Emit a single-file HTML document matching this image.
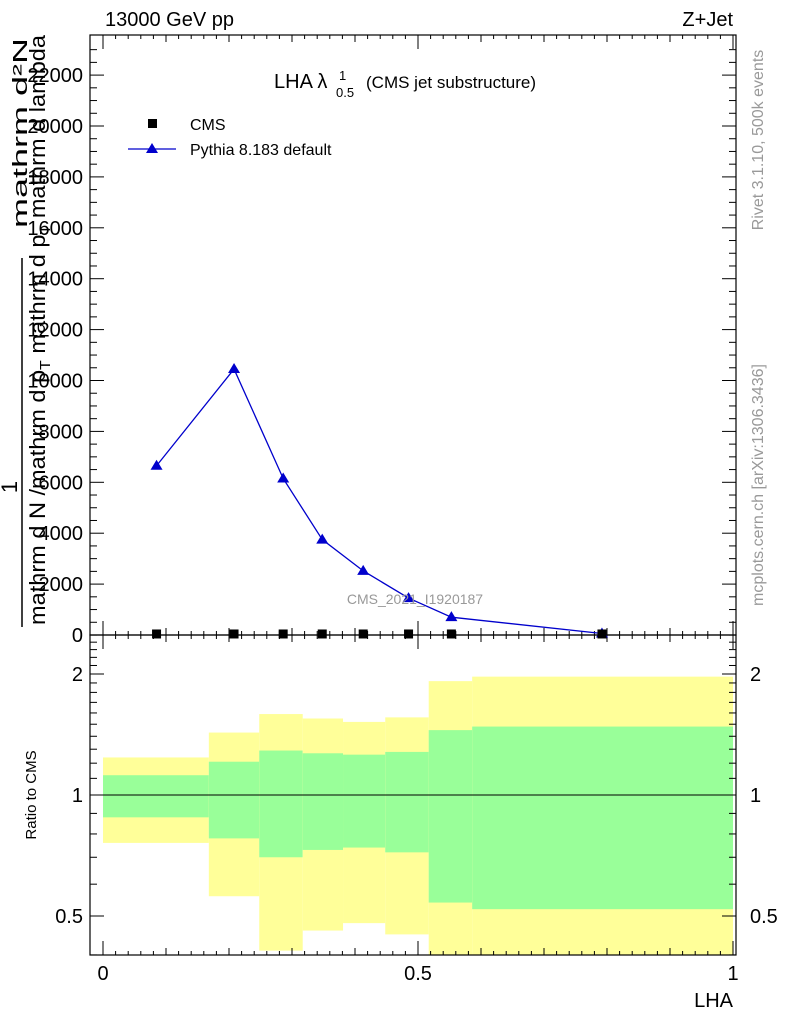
<!DOCTYPE html>
<html><head><meta charset="utf-8"><style>
body{margin:0;background:#fff}
svg text{font-family:"Liberation Sans",sans-serif}
</style></head><body>
<svg id="c" width="786" height="1024" xmlns="http://www.w3.org/2000/svg">
<g id="bands"></g>
<g id="frame"></g>
<g id="marks"></g>
<text x="105" y="26" font-size="20">13000 GeV pp</text>
<text x="733" y="26" font-size="20" text-anchor="end">Z+Jet</text>
<text x="274" y="88" font-size="20">LHA λ</text>
<text x="339" y="80" font-size="13">1</text>
<text x="336" y="97" font-size="13">0.5</text>
<text x="366" y="88" font-size="17">(CMS jet substructure)</text>
<rect x="148" y="119" width="9" height="9" fill="#000"/>
<text x="190" y="130" font-size="16">CMS</text>
<line x1="128" y1="149" x2="176" y2="149" stroke="#0000cc" stroke-width="1.3"/>
<polygon points="152,143 146,153 158,153" fill="#0000cc"/>
<text x="190" y="155" font-size="16">Pythia 8.183 default</text>
<text x="415" y="604" font-size="14" fill="#999" text-anchor="middle">CMS_2021_I1920187</text>
<text transform="translate(763,140) rotate(-90)" font-size="16" fill="#999" text-anchor="middle">Rivet 3.1.10,  500k events</text>
<text transform="translate(763,485) rotate(-90)" font-size="16" fill="#999" text-anchor="middle">mcplots.cern.ch [arXiv:1306.3436]</text>
<text transform="translate(27,38) rotate(-90)" font-size="20" text-anchor="end" textLength="190" lengthAdjust="spacingAndGlyphs">mathrm d²N</text>
<line x1="22" y1="258" x2="22" y2="627" stroke="#000" stroke-width="1.5"/>
<text transform="translate(17,487) rotate(-90)" font-size="22" text-anchor="middle">1</text>
<text transform="translate(45,625) rotate(-90)" font-size="22" textLength="590" lengthAdjust="spacingAndGlyphs">mathrm d N /mathrm d p<tspan font-size="15" dy="5">T</tspan><tspan dy="-5"> mathrm d p</tspan><tspan font-size="15" dy="5">T</tspan><tspan dy="-5"> mathrm d lambda</tspan></text>
<text transform="translate(36,795) rotate(-90)" font-size="15" text-anchor="middle">Ratio to CMS</text>
<text x="733" y="1007" font-size="20" text-anchor="end">LHA</text>
</svg>
<script>
const binEdges=[0,0.168,0.248,0.317,0.381,0.448,0.517,0.586,1];
const xCenters=[0.085,0.208,0.286,0.348,0.413,0.485,0.553,0.792];
const pythia=[6650,10450,6150,3750,2520,1450,700,60];
const cms=[40,40,40,40,40,40,40,40];
const yTicks=[0,2000,4000,6000,8000,10000,12000,14000,16000,18000,20000,22000];
const yelUp=[1.24,1.43,1.59,1.55,1.52,1.56,1.92,1.97];
const yelLo=[0.76,0.56,0.41,0.46,0.48,0.45,0.38,0.38];
const grnUp=[1.12,1.21,1.29,1.27,1.26,1.28,1.45,1.48];
const grnLo=[0.88,0.78,0.70,0.73,0.74,0.72,0.54,0.52];
const ratioTicks=[0.5,1,2];
const xTicks=[0,0.5,1];
const NS="http://www.w3.org/2000/svg";
const X=v=>103+v*630;
const Y=v=>635-v*(509/20000);
const R=v=>795-Math.log2(v)*121;
const L=90,Rt=736,T=35,M=635,B=955;
function el(t,a,p){const e=document.createElementNS(NS,t);for(const k in a)e.setAttribute(k,a[k]);document.getElementById(p).appendChild(e);return e;}
for(let i=0;i<8;i++){
 let x0=X(binEdges[i]),x1=X(binEdges[i+1]);
 let e=el('rect',{x:x0,y:Math.max(M,R(yelUp[i])),width:x1-x0,height:Math.min(B,R(yelLo[i]))-Math.max(M,R(yelUp[i])),fill:'#ffff99'},'bands');
 
 
 let g=el('rect',{x:x0,y:R(grnUp[i]),width:x1-x0,height:R(grnLo[i])-R(grnUp[i]),fill:'#99ff99'},'bands');
 
 
}
el('rect',{x:L,y:T,width:Rt-L,height:M-T,fill:'none',stroke:'#000','stroke-width':1.2},'frame');
el('rect',{x:L,y:M,width:Rt-L,height:B-M,fill:'none',stroke:'#000','stroke-width':1.2},'frame');
el('line',{x1:L,x2:Rt,y1:R(1),y2:R(1),stroke:'#000','stroke-width':1},'frame');
for(let v=0;v<=23000;v+=500){const y=Y(v);if(y<T)break;const maj=v%2000==0;const len=maj?14:7;
 el('line',{x1:L,x2:L+len,y1:y,y2:y,stroke:'#000'},'frame');el('line',{x1:Rt,x2:Rt-len,y1:y,y2:y,stroke:'#000'},'frame');}
yTicks.forEach(v=>{const t=el('text',{x:83,y:Y(v)+7,'font-size':20,'text-anchor':'end'},'frame');t.textContent=v;
 
 });
for(let v=0.4;v<=2.5;v=Math.round((v+0.1)*10)/10){const y=R(v);const maj=ratioTicks.includes(v);const len=maj?14:7;
 el('line',{x1:L,x2:L+len,y1:y,y2:y,stroke:'#000'},'frame');el('line',{x1:Rt,x2:Rt-len,y1:y,y2:y,stroke:'#000'},'frame');}
ratioTicks.forEach(v=>{const a=el('text',{x:83,y:R(v)+7,'font-size':20,'text-anchor':'end'},'frame');a.textContent=v;
 
 
 const b=el('text',{x:750,y:R(v)+7,'font-size':20},'frame');b.textContent=v;
 
 });
for(let k=-1;k<=10;k++){const v=k/10;const x=X(v);if(x<L)continue;const maj=k%5==0;const len=maj?14:7;
 el('line',{x1:x,x2:x,y1:T,y2:T+len,stroke:'#000'},'frame');
 el('line',{x1:x,x2:x,y1:M-len,y2:M+len,stroke:'#000'},'frame');
 el('line',{x1:x,x2:x,y1:B,y2:B-len,stroke:'#000'},'frame');
 for(let j=1;j<5&&k<10;j++){const xm=X(v+j/50);[[T,1],[M,-1],[M,1],[B,-1]].forEach(([y0,d])=>{el('line',{x1:xm,x2:xm,y1:y0,y2:y0+d*4,stroke:'#000'},'frame');});}
}
xTicks.forEach(v=>{const t=el('text',{x:X(v),y:980,'font-size':20,'text-anchor':'middle'},'frame');t.textContent=v;
 
 });
const pl=el('polyline',{points:xCenters.map((x,i)=>X(x)+','+Y(pythia[i])).join(' '),fill:'none',stroke:'#0000cc','stroke-width':1.3},'marks');


xCenters.forEach((x,i)=>{const px=X(x),py=Y(pythia[i]);
 const p=el('polygon',{points:`${px},${py-6} ${px-6},${py+4} ${px+6},${py+4}`,fill:'#0000cc'},'marks');
 
 
 const c=el('rect',{x:px-4.5,y:Y(cms[i])-4.5,width:9,height:9,fill:'#000'},'marks');
 
 
});
</script>
</body></html>
